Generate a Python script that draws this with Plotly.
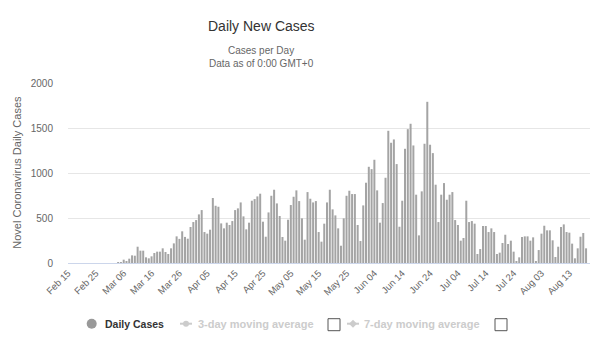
import pandas as pd
import plotly.graph_objects as go

# ---------------- data ----------------
start_date = "2020-02-15"
daily_cases = (
    [0] * 18 +
    [10, 10, 37, 20, 48, 85, 81, 181, 137, 137,
     63, 52, 74, 111, 126, 126, 163, 122, 100, 163,
     218, 296, 268, 352, 290, 270, 400, 455, 477, 540,
     588, 344, 326, 370, 722, 636, 625, 440, 385, 448,
     422, 466, 588, 607, 673, 518, 374, 448, 692, 710,
     740, 770, 459, 292, 562, 747, 814, 662, 522, 289,
     248, 481, 644, 736, 807, 688, 496, 259, 788, 714,
     673, 688, 344, 237, 437, 673, 814, 596, 529, 385,
     192, 496, 747, 803, 766, 766, 422, 244, 640,
     892, 1069, 1043, 1147, 807, 448, 666, 947, 1469, 1336,
     1373, 1099, 403, 692, 1269, 1487, 1547, 1306, 759, 307,
     796, 1325, 1791, 1314, 1221, 870, 455, 759, 888, 703,
     759, 788, 477, 422, 248, 278, 692, 455, 466, 437,
     100, 155, 411, 411, 344, 385, 344, 100, 115, 222,
     314, 211, 248, 126, 22, 63, 289, 296, 296, 248,
     285, 22, 144, 326, 414, 363, 363, 252, 67, 181,
     400, 429, 344, 337, 215, 52, 163, 292, 333, 163]
)
dates = pd.date_range(start_date, periods=len(daily_cases), freq="D")

y_ticks = [0, 500, 1000, 1500, 2000]

title_text = "Daily New Cases"
subtitle_lines = ["Cases per Day", "Data as of 0:00 GMT+0"]
y_title = "Novel Coronavirus Daily Cases"
legend_labels = ["Daily Cases", "3-day moving average", "7-day moving average"]

# ---------------- layout geometry (pixels) ----------------
W, H = 600, 350
L, R, T, B = 68, 590, 83.3, 263.3


def px(x):
    return (x - L) / (R - L)


def py(y):
    return (B - y) / (B - T)


FONT = "Liberation Sans, Arial, sans-serif"

fig = go.Figure()
fig.add_trace(go.Bar(
    x=dates, y=daily_cases, name=legend_labels[0],
    marker=dict(color="#a4a4a4", line=dict(width=0)),
    showlegend=False,
))

fig.update_layout(
    width=W, height=H,
    margin=dict(l=L, r=W - R, t=T, b=H - B, pad=0),
    paper_bgcolor="white", plot_bgcolor="white",
    bargap=0.28,
    showlegend=False,
    font=dict(family=FONT, color="#666666"),
    xaxis=dict(
        type="date",
        range=["2020-02-15 00:00", "2020-08-20 10:00"],
        tick0=start_date, dtick=10 * 86400000,
        tickformat="%b %d", tickangle=-45,
        tickfont=dict(size=9.5, color="#666666"),
        showgrid=False, showline=True, linecolor="#ccd6eb", linewidth=1,
        ticks="", zeroline=False, fixedrange=True,
    ),
    yaxis=dict(
        range=[0, 2000], tickvals=y_ticks,
        tickfont=dict(size=10, color="#666666"),
        showgrid=True, gridcolor="#e6e6e6", gridwidth=1,
        zeroline=False, showline=False, ticks="",
        ticklabelstandoff=14, fixedrange=True,
    ),
)

ann = []
ann.append(dict(text=title_text, x=px(261), y=py(26), xref="paper", yref="paper",
                showarrow=False, xanchor="center", yanchor="middle",
                font=dict(size=14, color="#333333", family=FONT)))
ann.append(dict(text=subtitle_lines[0], x=px(261), y=py(50.5), xref="paper", yref="paper",
                showarrow=False, xanchor="center", yanchor="middle",
                font=dict(size=10, color="#666666", family=FONT)))
ann.append(dict(text=subtitle_lines[1], x=px(261), y=py(63.5), xref="paper", yref="paper",
                showarrow=False, xanchor="center", yanchor="middle",
                font=dict(size=10, color="#666666", family=FONT)))
ann.append(dict(text=y_title, x=px(17), y=py(173), xref="paper", yref="paper",
                showarrow=False, xanchor="center", yanchor="middle", textangle=-90,
                font=dict(size=11, color="#666666", family=FONT)))

# legend (drawn manually)
LY = 324
ann.append(dict(text="<b>%s</b>" % legend_labels[0], x=px(103), y=py(LY), xref="paper", yref="paper",
                showarrow=False, xanchor="left", yanchor="middle",
                font=dict(size=10.5, color="#333333", family=FONT)))
ann.append(dict(text="<b>%s</b>" % legend_labels[1], x=px(196), y=py(LY), xref="paper", yref="paper",
                showarrow=False, xanchor="left", yanchor="middle",
                font=dict(size=11, color="#cccccc", family=FONT)))
ann.append(dict(text="<b>%s</b>" % legend_labels[2], x=px(362), y=py(LY), xref="paper", yref="paper",
                showarrow=False, xanchor="left", yanchor="middle",
                font=dict(size=11, color="#cccccc", family=FONT)))

shapes = []
# Daily cases marker
shapes.append(dict(type="circle", xref="paper", yref="paper",
                   x0=px(86.7), x1=px(96.7), y0=py(LY + 5), y1=py(LY - 5),
                   fillcolor="#999999", line=dict(width=0)))
# 3-day symbol
shapes.append(dict(type="line", xref="paper", yref="paper",
                   x0=px(180), x1=px(192), y0=py(LY), y1=py(LY),
                   line=dict(color="#cccccc", width=2)))
shapes.append(dict(type="circle", xref="paper", yref="paper",
                   x0=px(183), x1=px(189), y0=py(LY + 3), y1=py(LY - 3),
                   fillcolor="#cccccc", line=dict(width=0)))
# 7-day symbol
shapes.append(dict(type="line", xref="paper", yref="paper",
                   x0=px(347), x1=px(359), y0=py(LY), y1=py(LY),
                   line=dict(color="#cccccc", width=2)))
shapes.append(dict(type="path", xref="paper", yref="paper",
                   path="M %f %f L %f %f L %f %f L %f %f Z" % (
                       px(353), py(LY - 4), px(357), py(LY), px(353), py(LY + 4), px(349), py(LY)),
                   fillcolor="#cccccc", line=dict(width=0)))
# checkboxes
for x0 in (328, 495):
    shapes.append(dict(type="rect", xref="paper", yref="paper",
                       x0=px(x0), x1=px(x0 + 12), y0=py(LY + 7), y1=py(LY - 5),
                       fillcolor="white", line=dict(color="#555555", width=1)))

fig.update_layout(annotations=ann, shapes=shapes)

fig.write_html("out.html", config={"displayModeBar": False})
